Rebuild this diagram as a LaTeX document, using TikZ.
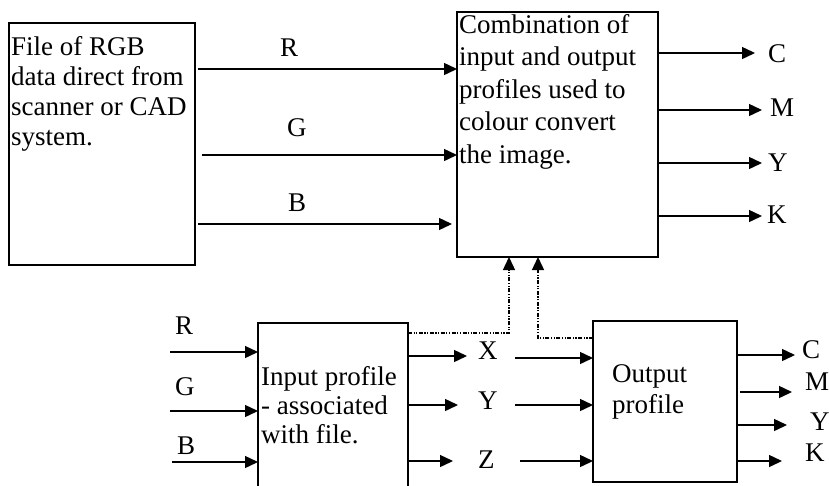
\documentclass[tikz,border=0pt]{standalone}
\usepackage{fontspec}
\setmainfont{Liberation Serif}
\usetikzlibrary{arrows.meta}
\begin{document}
\begin{tikzpicture}[x=1pt,y=-1pt,
  box/.style={draw, line width=1.2pt, inner sep=0pt, outer sep=0pt, anchor=north west},
  txt/.style={font=\fontsize{27}{30}\selectfont, inner sep=0pt, align=left, anchor=north west},
  lbl/.style={font=\fontsize{27}{30}\selectfont, inner sep=0pt, anchor=west},
  arr/.style={line width=1.4pt, -{Triangle[length=13pt,width=12pt]}},
  link/.style={arr, dash pattern=on 4pt off 1.5pt on 1.2pt off 1.5pt on 1.2pt off 1.5pt}]
\useasboundingbox (0,0) rectangle (829,485);

% boxes
\node[box, minimum width=186pt, minimum height=242pt] (file) at (9,23) {};
\node[box, minimum width=201pt, minimum height=245pt] (comb) at (457,12) {};
\node[box, minimum width=150pt, minimum height=165pt] (inp) at (258,323) {};
\node[box, minimum width=144pt, minimum height=161pt] (out) at (593,321) {};

% box texts
\node[txt] at (11,36) {File of RGB\\data direct from\\scanner or CAD\\system.};
\node[txt, font=\fontsize{27}{32.5}\selectfont] at (459,14) {Combination of\\input and output\\profiles used to\\colour convert\\the image.};
\node[txt, font=\fontsize{27}{29}\selectfont] at (261,366) {Input profile\\- associated\\with file.};
\node[txt, font=\fontsize{27}{31}\selectfont] at (612,364) {Output\\profile};

% top channel labels
\node[lbl] (rT) at (280,47.5) {R};
\node[lbl] (gT) at (287,128) {G};
\node[lbl] (bT) at (288,203) {B};
\node[lbl] (cT) at (768,54) {C};
\node[lbl] (mT) at (770,108) {M};
\node[lbl] (yT) at (768,163) {Y};
\node[lbl] (kT) at (767,215) {K};

% bottom channel labels
\node[lbl] (rB) at (175,326) {R};
\node[lbl] (gB) at (175,387) {G};
\node[lbl] (bB) at (177,446) {B};
\node[lbl] (xl) at (478,351) {X};
\node[lbl] (yl) at (478,401) {Y};
\node[lbl] (zl) at (478,460) {Z};
\node[lbl] (cB) at (802,350) {C};
\node[lbl] (mB) at (805,382) {M};
\node[lbl] (yB) at (810,422) {Y};
\node[lbl] (kB) at (805,453) {K};

% RGB from file into the combined conversion
\draw[arr, shorten <=3pt] (file.east |- 0,69) -- (comb.west |- 0,69);
\draw[arr, shorten <=7pt] (file.east |- 0,155) -- (comb.west |- 0,155);
\draw[arr, shorten <=3pt, shorten >=5pt] (file.east |- 0,224) -- (comb.west |- 0,224);

% CMYK out of the combined conversion
\draw[arr, shorten >=13pt] (comb.east |- 0,53) -- (cT.west |- 0,53);
\draw[arr, shorten >=8pt] (comb.east |- 0,110) -- (mT.west |- 0,110);
\draw[arr, shorten >=6pt] (comb.east |- 0,163) -- (yT.west |- 0,163);
\draw[arr, shorten >=5pt] (comb.east |- 0,216) -- (kT.west |- 0,216);

% RGB into the input profile
\coordinate (rin) at (170,352);
\coordinate (gin) at (170,411);
\coordinate (bin) at (172,462);
\draw[arr] (rin) -- (inp.west |- rin);
\draw[arr] (gin) -- (inp.west |- gin);
\draw[arr] (bin) -- (inp.west |- bin);

% XYZ out of the input profile
\draw[arr, shorten >=11pt] (inp.east |- 0,356) -- (xl.west |- 0,356);
\draw[arr, shorten >=20pt] (inp.east |- 0,405) -- (yl.west |- 0,405);
\draw[arr, shorten >=25pt] (inp.east |- 0,461) -- (zl.west |- 0,461);

% XYZ into the output profile
\draw[arr, shorten <=17.5pt] (xl.east |- 0,358) -- (out.west |- 0,358);
\draw[arr, shorten <=17.5pt] (yl.east |- 0,405) -- (out.west |- 0,405);
\draw[arr, shorten <=25.5pt] (zl.east |- 0,461) -- (out.west |- 0,461);

% CMYK out of the output profile
\draw[arr, shorten >=7pt] (out.east |- 0,355) -- (cB.west |- 0,355);
\draw[arr, shorten <=3pt, shorten >=13pt] (out.east |- 0,392) -- (mB.west |- 0,392);
\draw[arr, shorten >=23pt] (out.east |- 0,425) -- (yB.west |- 0,425);
\draw[arr, shorten >=23pt] (out.east |- 0,461) -- (kB.west |- 0,461);

% profiles feeding the combined conversion
\draw[link] (inp.east |- 0,333) -| ([xshift=52pt]comb.south west);
\draw[link] (out.west |- 0,338) -| ([xshift=81pt]comb.south west);
\end{tikzpicture}
\end{document}
